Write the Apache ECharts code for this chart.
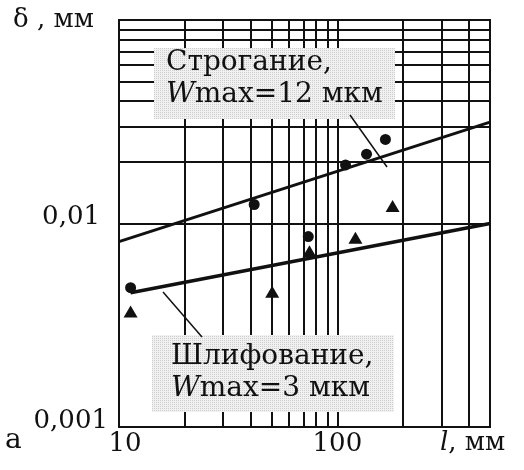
<!DOCTYPE html>
<html>
<head>
<meta charset="utf-8">
<script src="https://cdn.jsdelivr.net/npm/echarts@6/dist/echarts.min.js"></script>
<style>
  html, body { margin: 0; padding: 0; background: #fff; }
  #chart { width: 524px; height: 470px; }
</style>
</head>
<body>
<div id="chart"></div>
<script>
// Measured points, planing (circles)
const circleL = [11.3, 41.6, 73.6, 109, 136, 166];
const circleD = [0.00484, 0.0124, 0.00863, 0.0194, 0.0219, 0.0259];
// Measured points, grinding (triangles)
const triangleL = [11.3, 50.3, 74.5, 121, 179];
const triangleD = [0.00369, 0.00462, 0.0073, 0.0085, 0.0122];
// Fitted power-law lines (endpoints)
const planingL = [10, 500];
const planingD = [0.00815, 0.0315];
const grindingL = [11.3, 500];
const grindingD = [0.00457, 0.0100];
// Grid values and tick labels
const xGrid = [20, 30, 40, 50, 60, 70, 80, 90, 100, 200, 300, 400];
const yGrid = [0.002, 0.003, 0.004, 0.005, 0.006, 0.007, 0.008, 0.009, 0.01,
               0.02, 0.03, 0.04, 0.05, 0.06, 0.07, 0.08, 0.09];
const xTickLabels = { 1: '{c|10}', 2: '{d|100}' };
const yTickLabels = { '-3': '{a|0,001}', '-2': '{b|0,01}' };

const zip = (xs, ys) => xs.map((x, i) => [x, ys[i]]);
const FONT = '"DejaVu Serif", "Liberation Serif", serif';
const INK = '#111';

// light halftone fill for the caption boxes
const pc = document.createElement('canvas');
pc.width = 2; pc.height = 2;
const g = pc.getContext('2d');
g.fillStyle = '#f1f1f1'; g.fillRect(0, 0, 2, 2);
g.fillStyle = '#cdcdcd'; g.fillRect(0, 0, 1, 1);
const halftone = { image: pc, repeat: 'repeat' };

const decadeLabel = (v, table) => {
  const k = Math.round(Math.log10(v));
  return Math.abs(Math.log10(v) - k) < 1e-6 && table[k] ? table[k] : '';
};

const chart = echarts.init(document.getElementById('chart'), null, { renderer: 'canvas' });

chart.setOption({
  animation: false,
  backgroundColor: '#fff',
  grid: {
    left: 119, top: 20, right: 34, bottom: 43,
    show: true, borderColor: INK, borderWidth: 2, backgroundColor: 'transparent'
  },
  xAxis: {
    type: 'log', logBase: 10, min: 10, max: 500,
    axisLine: { show: false }, axisTick: { show: false }, splitLine: { show: false },
    axisLabel: {
      margin: 4, color: INK, fontFamily: FONT, fontSize: 26,
      showMaxLabel: false,
      formatter: v => decadeLabel(v, xTickLabels),
      rich: {
        c: { fontFamily: FONT, fontSize: 26, color: INK, padding: [0, 0, 0, 12] },
        d: { fontFamily: FONT, fontSize: 26, color: INK }
      }
    }
  },
  yAxis: {
    type: 'log', logBase: 10, min: 0.001, max: 0.1,
    axisLine: { show: false }, axisTick: { show: false }, splitLine: { show: false },
    axisLabel: {
      margin: 11, color: INK, fontFamily: FONT, fontSize: 26,
      showMaxLabel: false,
      formatter: v => decadeLabel(v, yTickLabels),
      rich: {
        a: { fontFamily: FONT, fontSize: 26, color: INK, padding: [0, 0, 12, 0] },
        b: { fontFamily: FONT, fontSize: 26, color: INK, padding: [0, 8, 12, 0] }
      }
    }
  },
  series: [
    {
      // grid lines at every integer multiple within each decade
      type: 'line', data: [], silent: true, z: 1,
      markLine: {
        silent: true, symbol: 'none', animation: false, z: 1,
        label: { show: false },
        lineStyle: { color: INK, width: 2, type: 'solid' },
        emphasis: { disabled: true },
        data: xGrid.map(v => ({ xAxis: v })).concat(yGrid.map(v => ({ yAxis: v })))
      }
    },
    {
      name: 'Строгание', type: 'line', data: zip(planingL, planingD),
      showSymbol: false, lineStyle: { color: INK, width: 3 }, z: 3, silent: true
    },
    {
      name: 'Шлифование', type: 'line', data: zip(grindingL, grindingD),
      showSymbol: false, lineStyle: { color: INK, width: 3.5 }, z: 3, silent: true
    },
    {
      type: 'scatter', data: zip(circleL, circleD), symbol: 'circle', symbolSize: 11,
      itemStyle: { color: INK, opacity: 1 }, z: 4, silent: true
    },
    {
      type: 'scatter', data: zip(triangleL, triangleD), symbol: 'triangle', symbolSize: [14, 12],
      itemStyle: { color: INK, opacity: 1 }, z: 4, silent: true
    }
  ],
  graphic: [
    { type: 'rect', z: 100, shape: { x: 154, y: 48, width: 241, height: 71 }, style: { fill: halftone } },
    { type: 'rect', z: 100, shape: { x: 152, y: 335, width: 242, height: 77 }, style: { fill: halftone } },
    { type: 'line', z: 101, shape: { x1: 350, y1: 115, x2: 387, y2: 167 }, style: { stroke: INK, lineWidth: 1.5 } },
    { type: 'line', z: 101, shape: { x1: 163, y1: 292, x2: 202, y2: 337 }, style: { stroke: INK, lineWidth: 1.5 } },
    { type: 'text', z: 102, x: 166, y: 63, style: { text: 'Строгание,', fill: INK, font: '28px ' + FONT, verticalAlign: 'middle' } },
    { type: 'text', z: 102, x: 166, y: 95, style: {
        text: '{i|W}max=12 мкм', fill: INK, font: '28px ' + FONT, verticalAlign: 'middle',
        rich: { i: { fontStyle: 'italic', fontFamily: FONT, fontSize: 28, fill: INK } } } },
    { type: 'text', z: 102, x: 171, y: 357, style: { text: 'Шлифование,', fill: INK, font: '28px ' + FONT, verticalAlign: 'middle' } },
    { type: 'text', z: 102, x: 171, y: 389, style: {
        text: '{i|W}max=3 мкм', fill: INK, font: '28px ' + FONT, verticalAlign: 'middle',
        rich: { i: { fontStyle: 'italic', fontFamily: FONT, fontSize: 28, fill: INK } } } },
    { type: 'text', z: 102, x: 13, y: 20, style: { text: 'δ , мм', fill: INK, font: '26px ' + FONT, verticalAlign: 'middle' } },
    { type: 'text', z: 102, x: 440, y: 443, style: {
        text: '{i|l}, мм', fill: INK, font: '26px ' + FONT, verticalAlign: 'middle',
        rich: { i: { fontStyle: 'italic', fontFamily: FONT, fontSize: 26, fill: INK } } } },
    { type: 'text', z: 102, x: 5, y: 441, style: { text: 'а', fill: INK, font: '28px ' + FONT, verticalAlign: 'middle' } }
  ]
});
</script>
</body>
</html>
